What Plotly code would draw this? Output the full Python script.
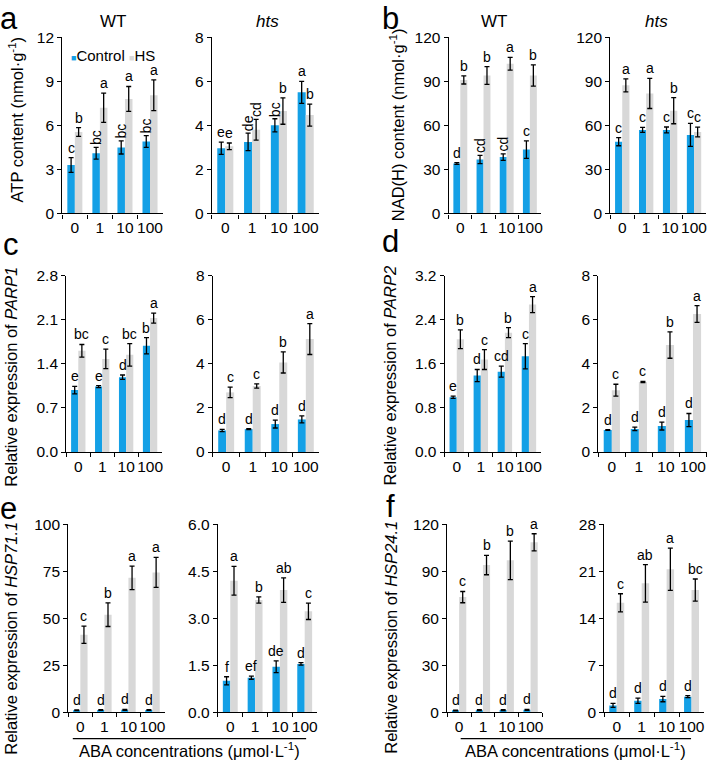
import plotly.graph_objects as go

W, H = 709, 770
BLUE = "#14A0E6"
GREY = "#D8D8D8"
FONT = "Liberation Sans, Arial, sans-serif"

conc = ["0", "1", "10", "100"]

# a  ATP content
atp_wt_ctrl = [3.3, 4.1, 4.5, 4.9]
atp_wt_ctrl_err = [0.5, 0.4, 0.45, 0.4]
atp_wt_hs = [5.55, 7.2, 7.8, 8.05]
atp_wt_hs_err = [0.3, 1.0, 0.85, 1.05]
atp_wt_ctrl_sig = ["c", "bc", "bc", "bc"]
atp_wt_hs_sig = ["b", "a", "a", "a"]
atp_wt_ticks = ["0", "3", "6", "9", "12"]

atp_hts_ctrl = [2.96, 3.25, 4.0, 5.5]
atp_hts_ctrl_err = [0.28, 0.4, 0.3, 0.5]
atp_hts_hs = [3.05, 3.8, 4.65, 4.47]
atp_hts_hs_err = [0.15, 0.47, 0.6, 0.5]
atp_hts_ctrl_sig = ["e", "de", "bc", "a"]
atp_hts_hs_sig = ["e", "cd", "b", "b"]
atp_hts_ticks = ["0", "2", "4", "6", "8"]

# b  NAD(H) content
nad_wt_ctrl = [34.0, 36.7, 38.4, 43.5]
nad_wt_ctrl_err = [0.6, 2.8, 2.2, 6.0]
nad_wt_hs = [91.0, 94.0, 102.0, 94.0]
nad_wt_hs_err = [2.8, 6.0, 4.4, 7.2]
nad_wt_ctrl_sig = ["d", "cd", "cd", "c"]
nad_wt_hs_sig = ["b", "b", "a", "b"]
nad_wt_ticks = ["0", "30", "60", "90", "120"]

nad_hts_ctrl = [48.9, 56.9, 56.9, 53.5]
nad_hts_ctrl_err = [2.8, 1.7, 2.0, 7.8]
nad_hts_hs = [87.3, 81.8, 70.0, 55.5]
nad_hts_hs_err = [4.4, 10.3, 8.9, 3.3]
nad_hts_ctrl_sig = ["c", "c", "c", "c"]
nad_hts_hs_sig = ["a", "a", "b", "c"]
nad_hts_ticks = ["0", "30", "60", "90", "120"]

# c  PARP1
parp1_wt_ctrl = [0.985, 1.04, 1.19, 1.69]
parp1_wt_ctrl_err = [0.06, 0.015, 0.035, 0.13]
parp1_wt_hs = [1.61, 1.48, 1.545, 2.13]
parp1_wt_hs_err = [0.1, 0.155, 0.18, 0.08]
parp1_wt_ctrl_sig = ["e", "e", "d", "b"]
parp1_wt_hs_sig = ["bc", "c", "bc", "a"]
parp1_wt_ticks = ["0.0", "0.7", "1.4", "2.1", "2.8"]

parp1_hts_ctrl = [0.98, 1.04, 1.27, 1.48]
parp1_hts_ctrl_err = [0.05, 0.02, 0.18, 0.16]
parp1_hts_hs = [2.71, 3.0, 4.07, 5.13]
parp1_hts_hs_err = [0.24, 0.1, 0.48, 0.7]
parp1_hts_ctrl_sig = ["d", "d", "d", "d"]
parp1_hts_hs_sig = ["c", "c", "b", "a"]
parp1_hts_ticks = ["0", "2", "4", "6", "8"]

# d  PARP2
parp2_wt_ctrl = [0.995, 1.39, 1.46, 1.74]
parp2_wt_ctrl_err = [0.02, 0.11, 0.1, 0.23]
parp2_wt_hs = [2.05, 1.68, 2.17, 2.68]
parp2_wt_hs_err = [0.17, 0.18, 0.09, 0.145]
parp2_wt_ctrl_sig = ["e", "d", "cd", "c"]
parp2_wt_hs_sig = ["b", "c", "b", "a"]
parp2_wt_ticks = ["0.0", "0.8", "1.6", "2.4", "3.2"]

parp2_hts_ctrl = [1.0, 1.05, 1.18, 1.45]
parp2_hts_ctrl_err = [0.02, 0.08, 0.18, 0.3]
parp2_hts_hs = [2.81, 3.18, 4.86, 6.27]
parp2_hts_hs_err = [0.27, 0.03, 0.6, 0.38]
parp2_hts_ctrl_sig = ["d", "d", "d", "d"]
parp2_hts_hs_sig = ["c", "c", "b", "a"]
parp2_hts_ticks = ["0", "2", "4", "6", "8"]

# e  HSP71.1
hsp71_wt_ctrl = [1.0, 1.1, 1.2, 1.1]
hsp71_wt_ctrl_err = [0.15, 0.2, 0.2, 0.15]
hsp71_wt_hs = [41.2, 51.9, 71.5, 74.4]
hsp71_wt_hs_err = [4.6, 6.3, 6.3, 8.0]
hsp71_wt_ctrl_sig = ["d", "d", "d", "d"]
hsp71_wt_hs_sig = ["c", "b", "a", "a"]
hsp71_wt_ticks = ["0", "25", "50", "75", "100"]

hsp71_hts_ctrl = [1.0, 1.1, 1.45, 1.54]
hsp71_hts_ctrl_err = [0.13, 0.05, 0.19, 0.04]
hsp71_hts_hs = [4.2, 3.58, 3.9, 3.22]
hsp71_hts_hs_err = [0.46, 0.1, 0.39, 0.26]
hsp71_hts_ctrl_sig = ["f", "ef", "de", "d"]
hsp71_hts_hs_sig = ["a", "b", "ab", "c"]
hsp71_hts_ticks = ["0.0", "1.5", "3.0", "4.5", "6.0"]

# f  HSP24.1
hsp24_wt_ctrl = [1.0, 1.2, 1.3, 1.5]
hsp24_wt_ctrl_err = [0.2, 0.3, 0.3, 0.3]
hsp24_wt_hs = [73.5, 94.0, 97.0, 108.5]
hsp24_wt_hs_err = [3.6, 6.2, 12.3, 5.5]
hsp24_wt_ctrl_sig = ["d", "d", "d", "d"]
hsp24_wt_hs_sig = ["c", "b", "b", "a"]
hsp24_wt_ticks = ["0", "30", "60", "90", "120"]

hsp24_hts_ctrl = [1.0, 1.7, 1.95, 2.3]
hsp24_hts_ctrl_err = [0.3, 0.4, 0.4, 0.15]
hsp24_hts_hs = [16.3, 19.2, 21.3, 18.2]
hsp24_hts_hs_err = [1.35, 2.8, 3.15, 1.65]
hsp24_hts_ctrl_sig = ["d", "d", "d", "d"]
hsp24_hts_hs_sig = ["c", "ab", "a", "bc"]
hsp24_hts_ticks = ["0", "7", "14", "21", "28"]

# 每个子图: 数据 + 像素框 (x0, x1, y_top, y_bottom)
panels = [
    (atp_wt_ctrl, atp_wt_ctrl_err, atp_wt_hs, atp_wt_hs_err, atp_wt_ctrl_sig, atp_wt_hs_sig, atp_wt_ticks, (62.5, 163, 29, 209)),
    (atp_hts_ctrl, atp_hts_ctrl_err, atp_hts_hs, atp_hts_hs_err, atp_hts_ctrl_sig, atp_hts_hs_sig, atp_hts_ticks, (212.5, 320, 29, 209)),
    (nad_wt_ctrl, nad_wt_ctrl_err, nad_wt_hs, nad_wt_hs_err, nad_wt_ctrl_sig, nad_wt_hs_sig, nad_wt_ticks, (450, 543, 29, 209)),
    (nad_hts_ctrl, nad_hts_ctrl_err, nad_hts_hs, nad_hts_hs_err, nad_hts_ctrl_sig, nad_hts_hs_sig, nad_hts_ticks, (612, 708, 29, 209)),
    (parp1_wt_ctrl, parp1_wt_ctrl_err, parp1_wt_hs, parp1_wt_hs_err, parp1_wt_ctrl_sig, parp1_wt_hs_sig, parp1_wt_ticks, (66.5, 162.5, 273, 453)),
    (parp1_hts_ctrl, parp1_hts_ctrl_err, parp1_hts_hs, parp1_hts_hs_err, parp1_hts_ctrl_sig, parp1_hts_hs_sig, parp1_hts_ticks, (213.5, 320, 273, 453)),
    (parp2_wt_ctrl, parp2_wt_ctrl_err, parp2_wt_hs, parp2_wt_hs_err, parp2_wt_ctrl_sig, parp2_wt_hs_sig, parp2_wt_ticks, (446, 542.5, 273, 453)),
    (parp2_hts_ctrl, parp2_hts_ctrl_err, parp2_hts_hs, parp2_hts_hs_err, parp2_hts_ctrl_sig, parp2_hts_hs_sig, parp2_hts_ticks, (600, 708.5, 273, 453)),
    (hsp71_wt_ctrl, hsp71_wt_ctrl_err, hsp71_wt_hs, hsp71_wt_hs_err, hsp71_wt_ctrl_sig, hsp71_wt_hs_sig, hsp71_wt_ticks, (68.5, 165, 527, 719)),
    (hsp71_hts_ctrl, hsp71_hts_ctrl_err, hsp71_hts_hs, hsp71_hts_hs_err, hsp71_hts_ctrl_sig, hsp71_hts_hs_sig, hsp71_hts_ticks, (218.5, 318, 527, 719)),
    (hsp24_wt_ctrl, hsp24_wt_ctrl_err, hsp24_wt_hs, hsp24_wt_hs_err, hsp24_wt_ctrl_sig, hsp24_wt_hs_sig, hsp24_wt_ticks, (448.5, 544, 527, 719)),
    (hsp24_hts_ctrl, hsp24_hts_ctrl_err, hsp24_hts_hs, hsp24_hts_hs_err, hsp24_hts_ctrl_sig, hsp24_hts_hs_sig, hsp24_hts_ticks, (606, 706, 527, 719)),
]

# 竖排显示的显著性字母: (子图序号, 0=Control/1=HS, 类别序号)
rotated = {(0, 0, 1), (0, 0, 2), (0, 0, 3), (1, 0, 1), (1, 0, 2), (1, 1, 1), (2, 0, 1), (2, 0, 2)}

BW = 0.3


def px(x):
    return x / W


def py(y):
    return 1 - y / H


def paper_text(text, x, y, size, angle=0, xanchor="center"):
    return dict(x=px(x), y=py(y), xref="paper", yref="paper", text=text, showarrow=False,
                xanchor=xanchor, yanchor="middle", textangle=angle,
                font=dict(size=size, color="black"))


fig = go.Figure()
annotations = []
axis_style = dict(showline=True, linecolor="black", linewidth=1.3, ticks="outside",
                  ticklen=4, tickwidth=1.3, tickcolor="black", showgrid=False,
                  zeroline=False, fixedrange=True, tickangle=0,
                  tickfont=dict(size=15.5, color="black"))

for k, (ctrl, ctrl_err, hs, hs_err, ctrl_sig, hs_sig, ticks, box) in enumerate(panels):
    n = k + 1
    xa, ya = f"x{n}", f"y{n}"
    x0, x1, yt, yb = box
    vals = [float(t) for t in ticks]

    fig.add_trace(go.Bar(
        x=conc, y=ctrl, width=BW, offset=-BW, marker=dict(color=BLUE, line_width=0),
        error_y=dict(type="data", array=ctrl_err, color="black", thickness=1.3, width=2.5),
        xaxis=xa, yaxis=ya, showlegend=False, name="Control"))
    fig.add_trace(go.Bar(
        x=conc, y=hs, width=BW, offset=0, marker=dict(color=GREY, line_width=0),
        error_y=dict(type="data", array=hs_err, color="black", thickness=1.3, width=2.5),
        xaxis=xa, yaxis=ya, showlegend=False, name="HS"))

    suffix = "" if n == 1 else str(n)
    fig.layout["xaxis" + suffix] = dict(
        axis_style, domain=[px(x0), px(x1)], anchor=ya, type="category",
        categoryorder="array", categoryarray=conc, tickson="boundaries", range=[-0.5, 3.5])
    fig.layout["yaxis" + suffix] = dict(
        axis_style, domain=[py(yb), py(yt)], anchor=xa, range=[0, vals[-1]],
        tickvals=vals, ticktext=ticks)

    # 显著性字母
    for s, (v, e, sig) in enumerate([(ctrl, ctrl_err, ctrl_sig), (hs, hs_err, hs_sig)]):
        for i in range(4):
            rot = (k, s, i) in rotated
            annotations.append(dict(
                x=i - BW / 2 if s == 0 else i + BW / 2, y=v[i] + e[i], xref=xa, yref=ya,
                text=sig[i], showarrow=False, yanchor="bottom", xanchor="center",
                textangle=-90 if rot else 0, font=dict(size=14, color="black")))

# 面板字母
for lab, x, y in [("a", 9, 10), ("b", 392, 10), ("c", 11, 241), ("d", 392, 238),
                  ("e", 9, 511), ("f", 392, 509)]:
    annotations.append(paper_text(lab, x, y, 31))

# 基因型标题
for lab, x in [("WT", 113), ("<i>hts</i>", 268), ("WT", 495), ("<i>hts</i>", 658)]:
    annotations.append(paper_text(lab, x, 13, 17))

# y 轴标题
for lab, x, y in [("ATP content (nmol·g<sup>-1</sup>)", 16, 113),
                  ("NAD(H) content (nmol·g<sup>-1</sup>)", 399, 118),
                  ("Relative expression of <i>PARP1</i>", 11, 376),
                  ("Relative expression of <i>PARP2</i>", 391, 375),
                  ("Relative expression of <i>HSP71.1</i>", 11, 643),
                  ("Relative expression of <i>HSP24.1</i>", 392, 642)]:
    annotations.append(paper_text(lab, x, y, 16.5, angle=-90))

# x 轴总标题
for x0, x1 in [(73, 307), (462, 693)]:
    fig.add_shape(type="line", xref="paper", yref="paper", x0=px(x0), x1=px(x1),
                  y0=py(746), y1=py(746), line=dict(color="black", width=1.3))
    annotations.append(paper_text("ABA concentrations (μmol·L<sup>-1</sup>)",
                                  (x0 + x1) / 2, 758, 16.5))

# 图例
annotations.append(paper_text(
    f"<span style='color:{BLUE};font-size:9px'>■</span>Control"
    f" <span style='color:{GREY};font-size:9px'>■</span>HS",
    69, 48, 15, xanchor="left"))

fig.update_layout(
    width=W, height=H, margin=dict(l=0, r=0, t=0, b=0),
    paper_bgcolor="white", plot_bgcolor="white", barmode="overlay",
    font=dict(family=FONT, color="black"), annotations=annotations,
)

# 去掉页面默认边距, 让图从左上角开始
fig.write_html("out.html", config={"displayModeBar": False},
               post_script="document.body.style.margin='0';")
